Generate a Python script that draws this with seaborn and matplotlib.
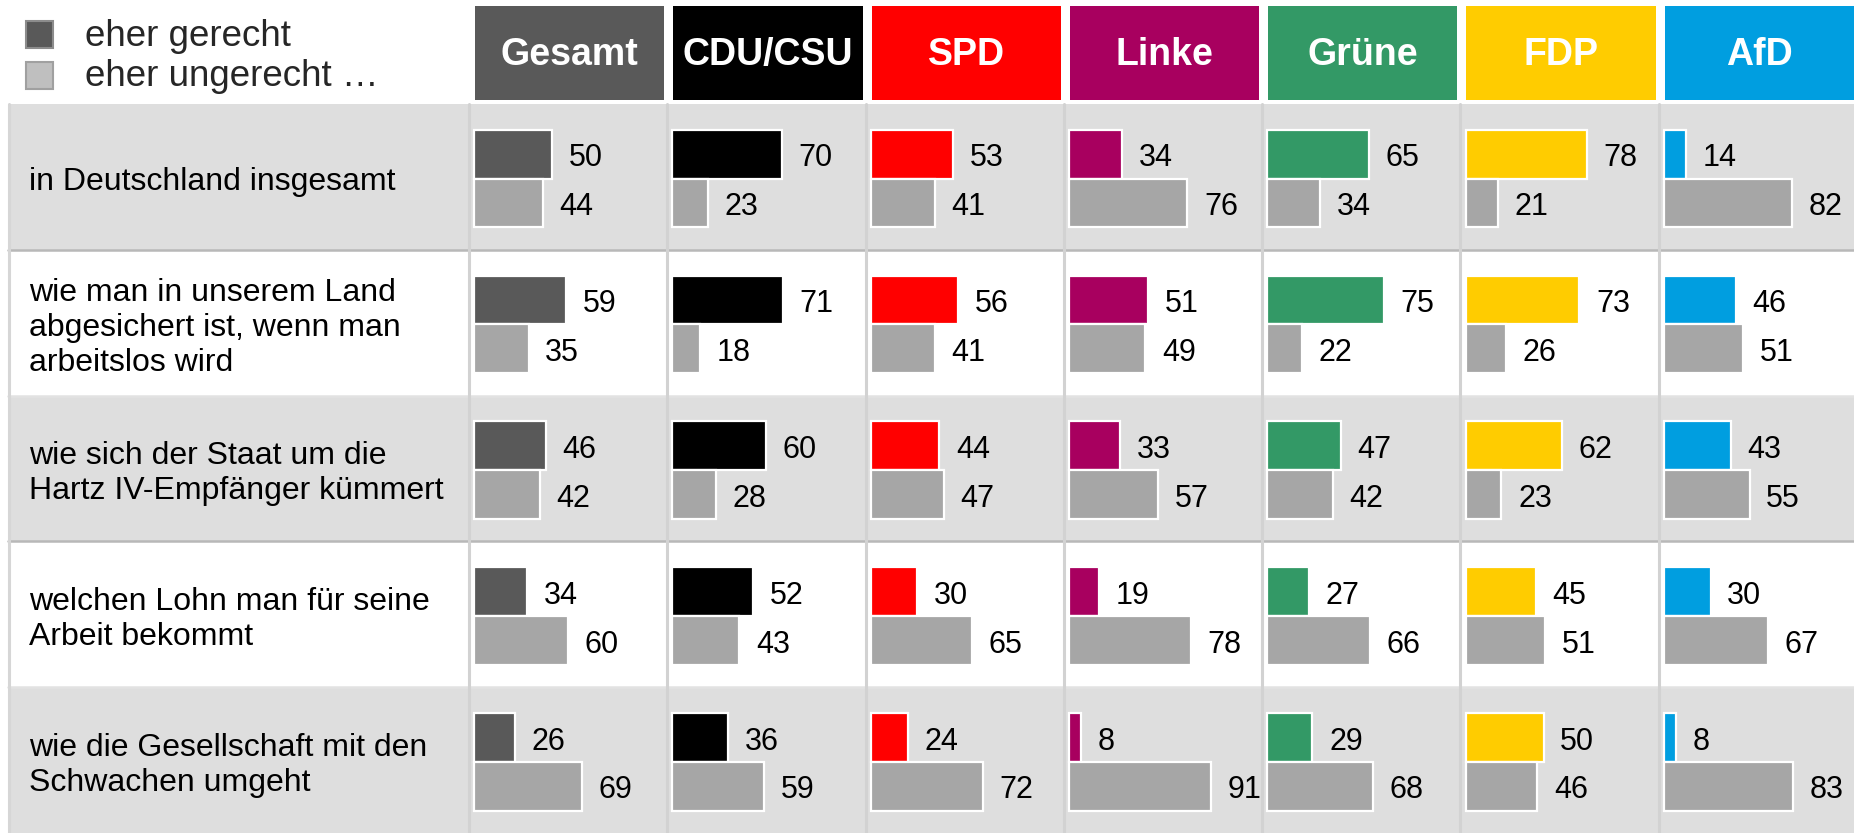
import pandas as pd
import matplotlib
matplotlib.use('Agg')
import matplotlib.pyplot as plt
import seaborn as sns
from matplotlib.patches import Rectangle

# Daten
parteien = ['Gesamt', 'CDU/CSU', 'SPD', 'Linke', 'Grüne', 'FDP', 'AfD']
farben = ['#595959', '#000000', '#FF0000', '#A8005F', '#339966', '#FFCC00', '#009EE0']
fragen = [
    'in Deutschland insgesamt',
    'wie man in unserem Land\nabgesichert ist, wenn man\narbeitslos wird',
    'wie sich der Staat um die\nHartz IV-Empfänger kümmert',
    'welchen Lohn man für seine\nArbeit bekommt',
    'wie die Gesellschaft mit den\nSchwachen umgeht',
]
antworten = ['eher gerecht', 'eher ungerecht …']

# je Frage: Werte pro Partei
gerecht = [
    [50, 70, 53, 34, 65, 78, 14],
    [59, 71, 56, 51, 75, 73, 46],
    [46, 60, 44, 33, 47, 62, 43],
    [34, 52, 30, 19, 27, 45, 30],
    [26, 36, 24, 8, 29, 50, 8],
]
ungerecht = [
    [44, 23, 41, 76, 34, 21, 82],
    [35, 18, 41, 49, 22, 26, 51],
    [42, 28, 47, 57, 42, 23, 55],
    [60, 43, 65, 78, 66, 51, 67],
    [69, 59, 72, 91, 68, 46, 83],
]

grau_balken = '#A6A6A6'

rows = []
for i, frage in enumerate(fragen):
    for j, partei in enumerate(parteien):
        rows.append({'frage': frage, 'partei': partei, 'antwort': antworten[0], 'wert': gerecht[i][j]})
        rows.append({'frage': frage, 'partei': partei, 'antwort': antworten[1], 'wert': ungerecht[i][j]})
df = pd.DataFrame(rows)

sns.set_style('white')
plt.rcParams['font.family'] = ['Liberation Sans', 'DejaVu Sans']

W, H = 1854, 833
fig = plt.figure(figsize=(W / 100, H / 100), dpi=100)

# Hintergrund-Achse in Pixelkoordinaten
bg = fig.add_axes([0, 0, 1, 1])
bg.set_xlim(0, W)
bg.set_ylim(H, 0)
bg.set_axis_off()

top = 104
row_h = (H - top) / len(fragen)
col_x0 = 469
col_w = 198.3
px_per_unit = 1.56
offset = 5

# Zeilenstreifen
for i in range(len(fragen)):
    y0 = top + i * row_h
    fc = '#DEDEDE' if i % 2 == 0 else 'white'
    bg.add_patch(Rectangle((8, y0), W - 8, row_h, facecolor=fc, edgecolor='none', zorder=0))
    bg.text(29, y0 + row_h / 2 + 5, fragen[i], fontsize=23, va='center', ha='left',
            linespacing=1.22, color='black')

# Trennlinien
for i in range(1, len(fragen)):
    y = top + i * row_h
    c = '#B8B8B8' if i % 2 == 1 else '#E2E2E2'
    bg.plot([8, W], [y, y], color=c, lw=1.8, zorder=1)
bg.plot([9.5, 9.5], [top, H], color='#D6D6D6', lw=2.2, zorder=1)
for j in range(len(parteien)):
    x = col_x0 + j * col_w
    bg.plot([x, x], [top, H], color='#D2D2D2', lw=2.2, zorder=1)

# Kopfzeile
for j, (partei, farbe) in enumerate(zip(parteien, farben)):
    x = col_x0 + j * col_w
    bg.add_patch(Rectangle((x + 6, 6), col_w - 9, 94, facecolor=farbe, edgecolor='none', zorder=2))
    bg.text(x + 6 + (col_w - 9) / 2, 55, partei, fontsize=27, fontweight='bold',
            color='white', ha='center', va='center')

# Legende
bg.add_patch(Rectangle((26, 21), 27, 27, facecolor='#595959', edgecolor='#8C8C8C', lw=1.5, zorder=2))
bg.add_patch(Rectangle((26, 62), 27, 27, facecolor='#BFBFBF', edgecolor='#A0A0A0', lw=1.5, zorder=2))
bg.text(85, 36, antworten[0], fontsize=26.5, va='center', ha='left')
bg.text(85, 76, antworten[1], fontsize=26.5, va='center', ha='left')

# Balken je Partei
for j, (partei, farbe) in enumerate(zip(parteien, farben)):
    x = col_x0 + j * col_w
    ax = fig.add_axes([x / W, 0, col_w / W, (H - top) / H])
    ax.patch.set_alpha(0)
    sub = df[df['partei'] == partei]
    sns.barplot(
        data=sub, x='wert', y='frage', hue='antwort',
        palette={antworten[0]: farbe, antworten[1]: grau_balken},
        orient='h', width=0.67, errorbar=None, legend=False,
        edgecolor='white', linewidth=1.6, saturation=1, ax=ax
    )
    ax.set_xlim(-offset / px_per_unit, (col_w - offset) / px_per_unit)
    ax.set_ylim(len(fragen) - 0.5 - 0.012, -0.5 - 0.012)
    for cont in ax.containers:
        labels = ax.bar_label(cont, padding=12, fontsize=22, color='black', clip_on=False)
        # Zahlen etwas tiefer setzen, wie im Original
        for t in labels:
            t.xyann = (12, -3)
    ax.set_axis_off()

fig.savefig('out.png', dpi=100)
